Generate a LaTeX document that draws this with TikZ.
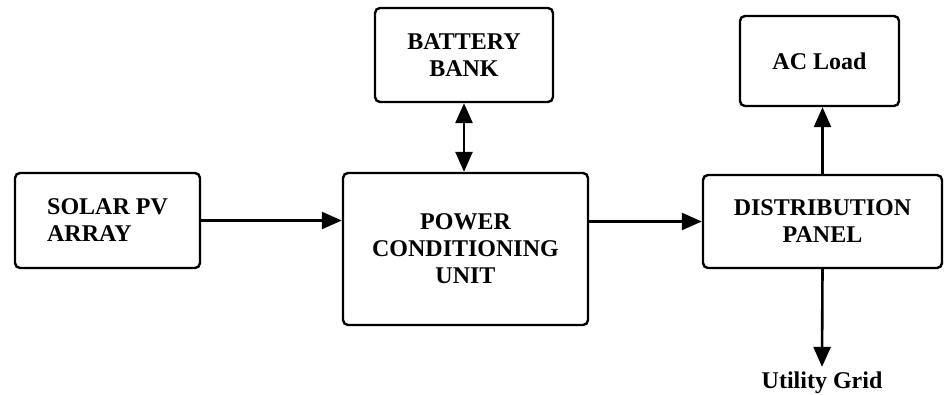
\documentclass[tikz,border=0pt]{standalone}
\usepackage{fontspec}
\setmainfont{Liberation Serif}
\usepackage{tikz}
\usetikzlibrary{positioning, arrows.meta, calc}

\begin{document}
\begin{tikzpicture}[x=1pt, y=-1pt,
    head/.tip={Triangle[length=20pt, width=17pt]},
    unit/.style={draw, line width=2.4pt, rounded corners=5pt, font=\fontsize{24}{27}\selectfont\bfseries, align=center, inner sep=0pt},
    flow/.style={line width=2.6pt, -head}]
    \useasboundingbox (0,0) rectangle (945,394);
    \node [unit, minimum width=185pt, minimum height=95pt, align=left] (solar) at (107.5,220.5) {SOLAR PV\\ARRAY};
    \node [unit, minimum width=245pt, minimum height=152pt] (pcu) at (465.5,249) {POWER\\CONDITIONING\\UNIT};
    \node [unit, minimum width=178pt, minimum height=94pt] (battery) at (464,55) {BATTERY\\BANK};
    \node [unit, minimum width=239pt, minimum height=93pt] (panel) at (822.5,221.5) {DISTRIBUTION\\PANEL};
    \node [unit, minimum width=159pt, minimum height=90pt] (load) at (819.5,61) {AC Load};
    \node [font=\fontsize{24}{27}\selectfont\bfseries, inner sep=5pt] (grid) at (822,383) {Utility Grid};
    \draw [flow] (solar.east) -- (solar.east -| pcu.west);
    \draw [flow] (pcu.east |- panel.west) -- (panel.west);
    \draw [flow, head-head] (battery.south) -- (battery.south |- pcu.north);
    \draw [flow] (panel.north) -- (panel.north |- load.south);
    \draw [flow] (panel.south) -- (grid.north);
\end{tikzpicture}
\end{document}
